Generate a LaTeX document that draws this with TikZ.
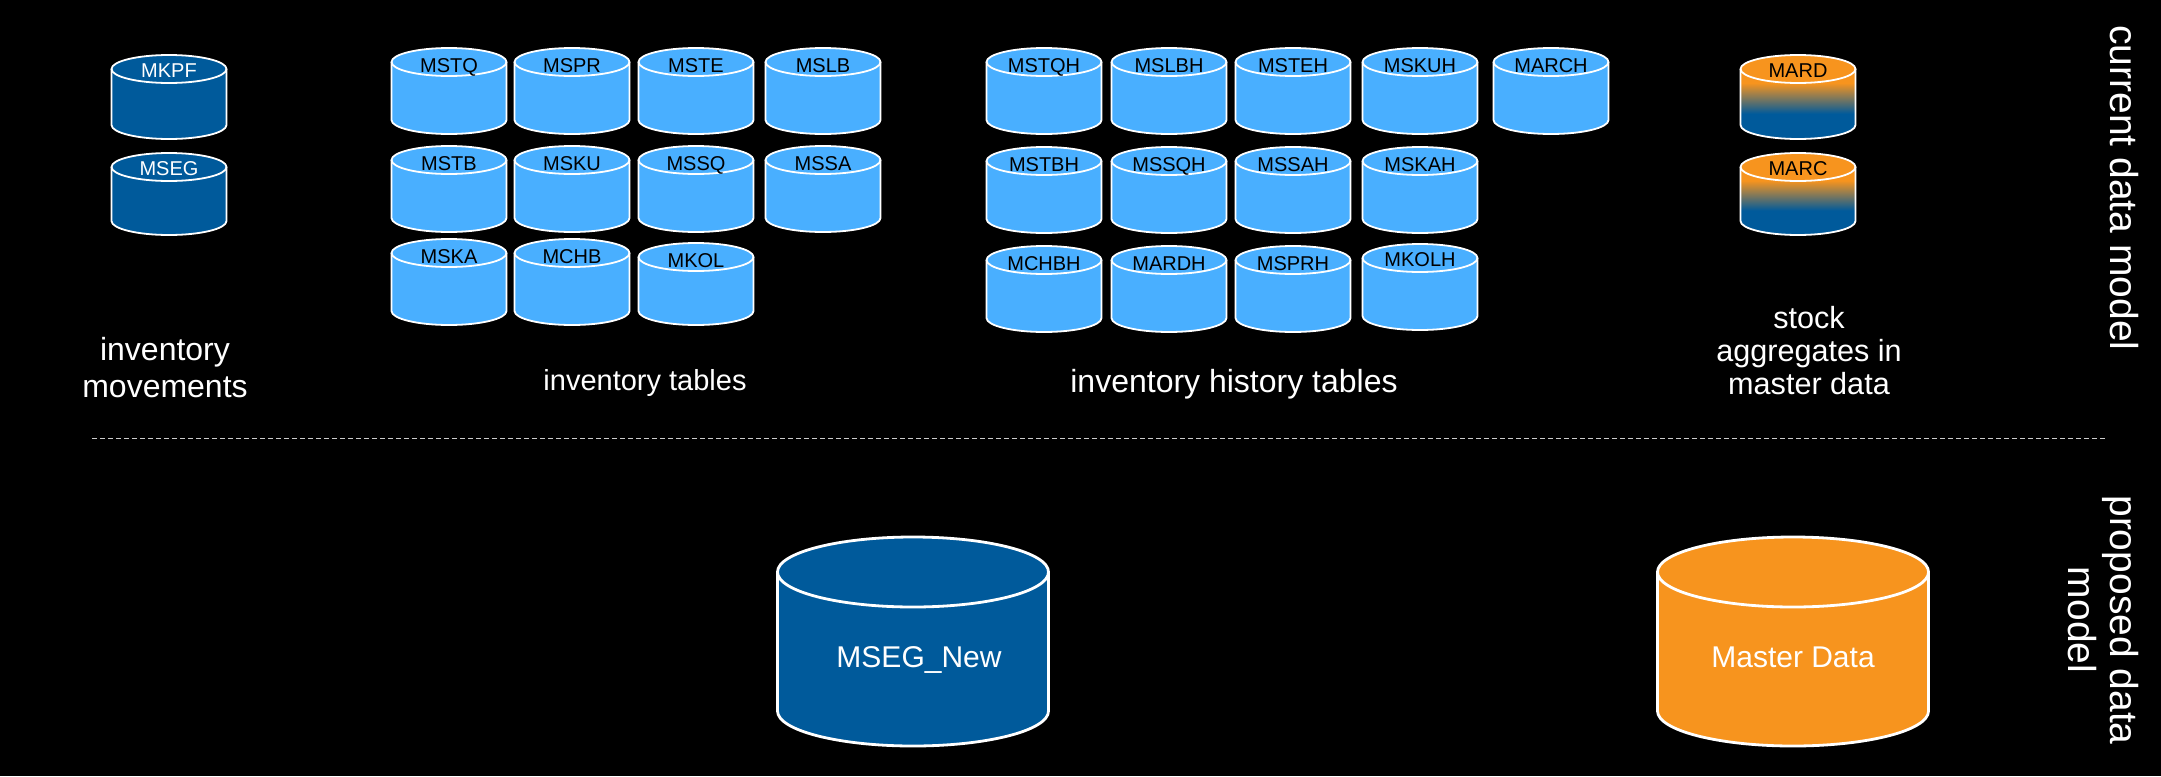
\documentclass[tikz,border=0pt]{standalone}
\usepackage{fontspec}
\setmainfont{Liberation Sans}
\definecolor{tblblue}{RGB}{73,175,255}
\definecolor{sapblue}{RGB}{0,90,155}
\definecolor{saporange}{RGB}{247,148,30}
\pgfdeclareverticalshading{stockfade}{100bp}{color(0bp)=(sapblue); color(43bp)=(sapblue); color(65bp)=(saporange); color(100bp)=(saporange)}
\tikzset{
	cyl w/.store in=\cylw, cyl w=57.5,
	cyl ry/.store in=\cylry, cyl ry=14,
	cyl h/.store in=\cylh, cyl h=86,
	cyl txt/.store in=\cyltxt, cyl txt=24,
	cyl body/.style={fill=tblblue},
	cyl top/.style={fill=tblblue},
	cyl line/.style={draw=white, line width=0.9pt},
	cyl label/.style={text=black, font=\fontsize{10}{12}\selectfont},
	movement/.style={cyl body/.style={fill=sapblue}, cyl top/.style={fill=sapblue}, cyl label/.append style={text=white}},
	stock/.style={cyl body/.style={shading=stockfade}, cyl top/.style={fill=saporange}},
	bigcyl/.style={cyl w=135.5, cyl ry=35, cyl h=209, cyl txt=130,
		cyl line/.append style={line width=1.4pt},
		cyl label/.style={text=white, font=\fontsize{15}{18}\selectfont}},
	pics/dbcyl/.style={code={
		\path[cyl body] (-\cylw,\cylry) -- (-\cylw,\cylh-\cylry)
			arc[start angle=180, end angle=0, x radius=\cylw, y radius=\cylry]
			-- (\cylw,\cylry) -- cycle;
		\path[cyl top, cyl line] (0,\cylry) ellipse[x radius=\cylw, y radius=\cylry];
		\path[cyl line] (-\cylw,\cylry) -- (-\cylw,\cylh-\cylry)
			arc[start angle=180, end angle=0, x radius=\cylw, y radius=\cylry]
			-- (\cylw,\cylry);
		\node[cyl label, anchor=base] (-txt) at (0,\cyltxt) {#1};
	}},
	grouplbl/.style={text=white, font=\fontsize{16}{18.5}\selectfont, align=center},
	side/.style={text=white, font=\fontsize{19.5}{21}\selectfont, align=center, rotate=-90},
	sepline/.style={draw=white!80!black, line width=0.5pt, dash pattern=on 2.5pt off 1.5pt}
}
\begin{document}
\begin{tikzpicture}[x=0.5pt, y=-0.5pt]
	\useasboundingbox[fill=black] (0,0) rectangle (2161,776);
	% current data model
	\pic[movement, cyl h=84, cyl txt=22] (mkpf) at (169,55) {dbcyl=MKPF};
	\pic[movement, cyl h=82, cyl txt=22] (mseg) at (169,153) {dbcyl=MSEG};
	\pic (mstq) at (449,48) {dbcyl=MSTQ};
	\pic (mspr) at (572,48) {dbcyl=MSPR};
	\pic (mste) at (696,48) {dbcyl=MSTE};
	\pic (mslb) at (823,48) {dbcyl=MSLB};
	\pic (mstb) at (449,146) {dbcyl=MSTB};
	\pic (msku) at (572,146) {dbcyl=MSKU};
	\pic (mssq) at (696,146) {dbcyl=MSSQ};
	\pic (mssa) at (823,146) {dbcyl=MSSA};
	\pic (mska) at (449,239) {dbcyl=MSKA};
	\pic (mchb) at (572,239) {dbcyl=MCHB};
	\pic[cyl h=82] (mkol) at (696,243) {dbcyl=MKOL};
	\pic (mstqh) at (1044,48) {dbcyl=MSTQH};
	\pic (mslbh) at (1169,48) {dbcyl=MSLBH};
	\pic (msteh) at (1293,48) {dbcyl=MSTEH};
	\pic (mskuh) at (1420,48) {dbcyl=MSKUH};
	\pic (march) at (1551,48) {dbcyl=MARCH};
	\pic (mstbh) at (1044,147) {dbcyl=MSTBH};
	\pic (mssqh) at (1169,147) {dbcyl=MSSQH};
	\pic (mssah) at (1293,147) {dbcyl=MSSAH};
	\pic (mskah) at (1420,147) {dbcyl=MSKAH};
	\pic (mchbh) at (1044,246) {dbcyl=MCHBH};
	\pic (mardh) at (1169,246) {dbcyl=MARDH};
	\pic (msprh) at (1293,246) {dbcyl=MSPRH};
	\pic[cyl h=86, cyl txt=22] (mkolh) at (1420,244) {dbcyl=MKOLH};
	\pic[stock, cyl h=84, cyl txt=22] (mard) at (1798,55) {dbcyl=MARD};
	\pic[stock, cyl h=82, cyl txt=22] (marc) at (1798,153) {dbcyl=MARC};
	\node[grouplbl] (movlbl) at (165,368) {inventory\\movements};
	\node[grouplbl, anchor=base, font=\fontsize{14.5}{17}\selectfont] (tbllbl) at (645,390) {inventory tables};
	\node[grouplbl, anchor=base] (histlbl) at (1234,392) {inventory history tables};
	\node[grouplbl, font=\fontsize{15.3}{16.5}\selectfont] (stocklbl) at (1809,351) {stock\\aggregates in\\master data};
	\node[side] (curlbl) at (2124,188) {current data model};
	% separator
	\coordinate (sepl) at (92,438);
	\coordinate (sepr) at (2108,438);
	\draw[sepline] (sepl) -- (sepr);
	% proposed data model
	\pic[bigcyl, movement, cyl label/.append style={xshift=3pt}] (msegnew) at (913,537) {dbcyl=MSEG\_New};
	\pic[bigcyl, cyl body/.style={fill=saporange}, cyl top/.style={fill=saporange}] (masterdata) at (1793,537) {dbcyl=Master Data};
	\node[side] (proplbl) at (2103,620) {proposed data\\model};
\end{tikzpicture}
\end{document}
